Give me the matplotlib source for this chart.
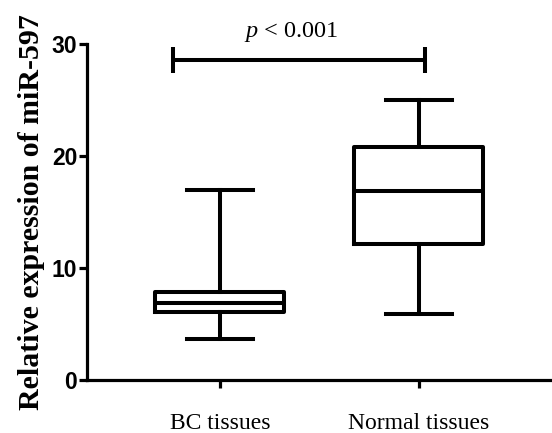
import matplotlib
matplotlib.use('Agg')
import matplotlib.pyplot as plt

plt.rcParams['mathtext.fontset'] = 'custom'
plt.rcParams['mathtext.it'] = 'Liberation Serif:italic'
plt.rcParams['mathtext.rm'] = 'Liberation Serif'

# box summary
groups = ['BC tissues', 'Normal tissues']
whis_lo = [3.7, 5.9]
q1 = [6.1, 12.1]
med = [6.9, 16.9]
q3 = [7.9, 20.8]
whis_hi = [17.0, 25.0]

p_text = '$p$ < 0.001'
bracket_x = [0.765, 2.03]
bracket_y = 28.6

fig = plt.figure(figsize=(5.52, 4.33), dpi=100)
ax = fig.add_axes([0.1576, 0.1224, 0.8424, 0.776])

stats = []
for i in range(len(groups)):
    stats.append(dict(label=groups[i], whislo=whis_lo[i], q1=q1[i], med=med[i],
                      q3=q3[i], whishi=whis_hi[i], fliers=[]))

lw = 2.9
ax.bxp(stats, positions=[1, 2], widths=0.65, showfliers=False,
       boxprops=dict(color='black', linewidth=lw),
       medianprops=dict(color='black', linewidth=lw),
       whiskerprops=dict(color='black', linewidth=lw),
       capprops=dict(color='black', linewidth=lw),
       capwidths=0.33)

ax.set_xlim(0.332, 2.67)
ax.set_ylim(0, 30)
ax.set_yticks([0, 10, 20, 30])
ax.set_xticks([1, 2])
ax.set_xticklabels(groups, family='Liberation Serif', fontsize=17)
for t in ax.get_yticklabels():
    t.set_family('Liberation Sans')
    t.set_fontweight('bold')
    t.set_fontsize(16.5)

for s in ['top', 'right']:
    ax.spines[s].set_visible(False)
for s in ['left', 'bottom']:
    ax.spines[s].set_linewidth(2.3)
ax.tick_params(axis='both', width=2.3, length=6)
ax.tick_params(axis='x', pad=18)
ax.tick_params(axis='y', pad=1)

ax.set_ylabel('Relative expression of miR-597', family='Liberation Serif',
              fontweight='bold', fontsize=21.5, labelpad=5)

# significance bracket
x0, x1 = bracket_x
ax.plot([x0, x0], [bracket_y - 1.15, bracket_y + 1.15], color='black', linewidth=lw,
        clip_on=False, solid_capstyle='butt')
ax.plot([x1, x1], [bracket_y - 1.15, bracket_y + 1.15], color='black', linewidth=lw,
        clip_on=False, solid_capstyle='butt')
ax.plot([x0, x1], [bracket_y, bracket_y], color='black', linewidth=lw, clip_on=False,
        solid_capstyle='butt')
ax.text(1.36, bracket_y + 1.4, p_text, ha='center', va='bottom', fontsize=17.5,
        family='Liberation Serif')

fig.savefig('out.png', dpi=100)
